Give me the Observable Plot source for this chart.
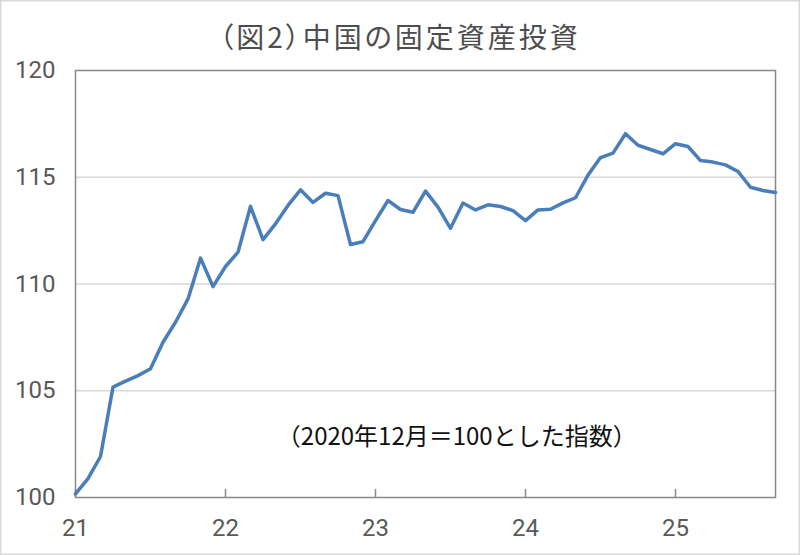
<!DOCTYPE html>
<html>
<head>
<meta charset="utf-8">
<script src="https://cdn.jsdelivr.net/npm/d3@7"></script>
<script src="https://cdn.jsdelivr.net/npm/@observablehq/plot@0.6"></script>
<style>
  body { margin: 0; background: #fff; }
  #chart { position: relative; width: 800px; height: 555px; background: #fff; box-shadow: inset 0 0 0 1.5px #d9d9d9; }
  #plot svg { display: block; }
  #title { position: absolute; left: 0; top: 16px; width: 800px; text-align: center; font-family: "Noto Sans CJK JP", sans-serif; font-size: 28px; line-height: 40px; letter-spacing: 3px; font-feature-settings: "palt"; color: #4d4d4d; }
  #plot { position: absolute; left: 0; top: 0; width: 800px; height: 555px; }
</style>
</head>
<body>
<div id="chart">
  <div id="plot"></div>
  <div id="title">（図2）中国の固定資産投資</div>
</div>
<script>
// Monthly index (Dec 2020 = 100), Jan 2021 .. Sep 2025
const values = [
  100.17, 100.88, 101.92, 105.17, 105.45, 105.71, 106.03, 107.27, 108.21, 109.30, 111.21, 109.88,
  110.82, 111.49, 113.64, 112.08, 112.82, 113.68, 114.41, 113.82, 114.25, 114.14, 111.85, 111.98,
  112.97, 113.91, 113.49, 113.36, 114.35, 113.60, 112.61, 113.79, 113.47, 113.71, 113.63, 113.44,
  112.97, 113.47, 113.50, 113.80, 114.04, 115.10, 115.92, 116.13, 117.04, 116.50, 116.30, 116.10,
  116.57, 116.44, 115.78, 115.71, 115.58, 115.27, 114.53, 114.38, 114.29
];
const yearLabels = ["21", "22", "23", "24", "25"];
const yearTickIndex = [0, 12, 24, 36, 48];
const yTicks = [100, 105, 110, 115, 120];
const gridValues = [105, 110, 115];
const note = [{x: 30.5, y: 102.8, text: "（2020年12月＝100とした指数）"}];

const data = values.map((v, i) => ({i, v}));
const svgHeight = 555, mTop = 70, mBottom = 58;
const innerHeight = svgHeight - mTop - mBottom;

const chart = Plot.plot({
  width: 800,
  height: svgHeight,
  marginLeft: 75,
  marginRight: 25,
  marginTop: mTop,
  marginBottom: mBottom,
  style: {fontFamily: "Roboto, sans-serif", fontSize: "24px", color: "#595959", background: "transparent", overflow: "visible"},
  x: {domain: [0, values.length - 1]},
  y: {domain: [100, 120]},
  marks: [
    Plot.gridY(gridValues, {stroke: "#d9d9d9", strokeOpacity: 1, strokeWidth: 1.5}),
    Plot.frame({stroke: "#898989", strokeWidth: 1.5}),
    Plot.tickX(yearTickIndex, {x: d => d, insetTop: innerHeight - 8, stroke: "#898989", strokeWidth: 1.5}),
    Plot.axisY(yTicks, {tickSize: 0, tickPadding: 20, fontSize: 24, label: null}),
    Plot.axisX(yearTickIndex, {tickSize: 0, tickPadding: 21, fontSize: 24, label: null,
      tickFormat: d => yearLabels[yearTickIndex.indexOf(d)]}),
    Plot.lineY(data, {x: "i", y: "v", stroke: "#4a7ebb", strokeWidth: 3.5}),
    Plot.text(note, {x: "x", y: "y", text: "text", fontSize: 24, fill: "#111",
      fontFamily: "Noto Sans CJK JP, sans-serif"})
  ]
});
document.getElementById("plot").appendChild(chart);
</script>
</body>
</html>
